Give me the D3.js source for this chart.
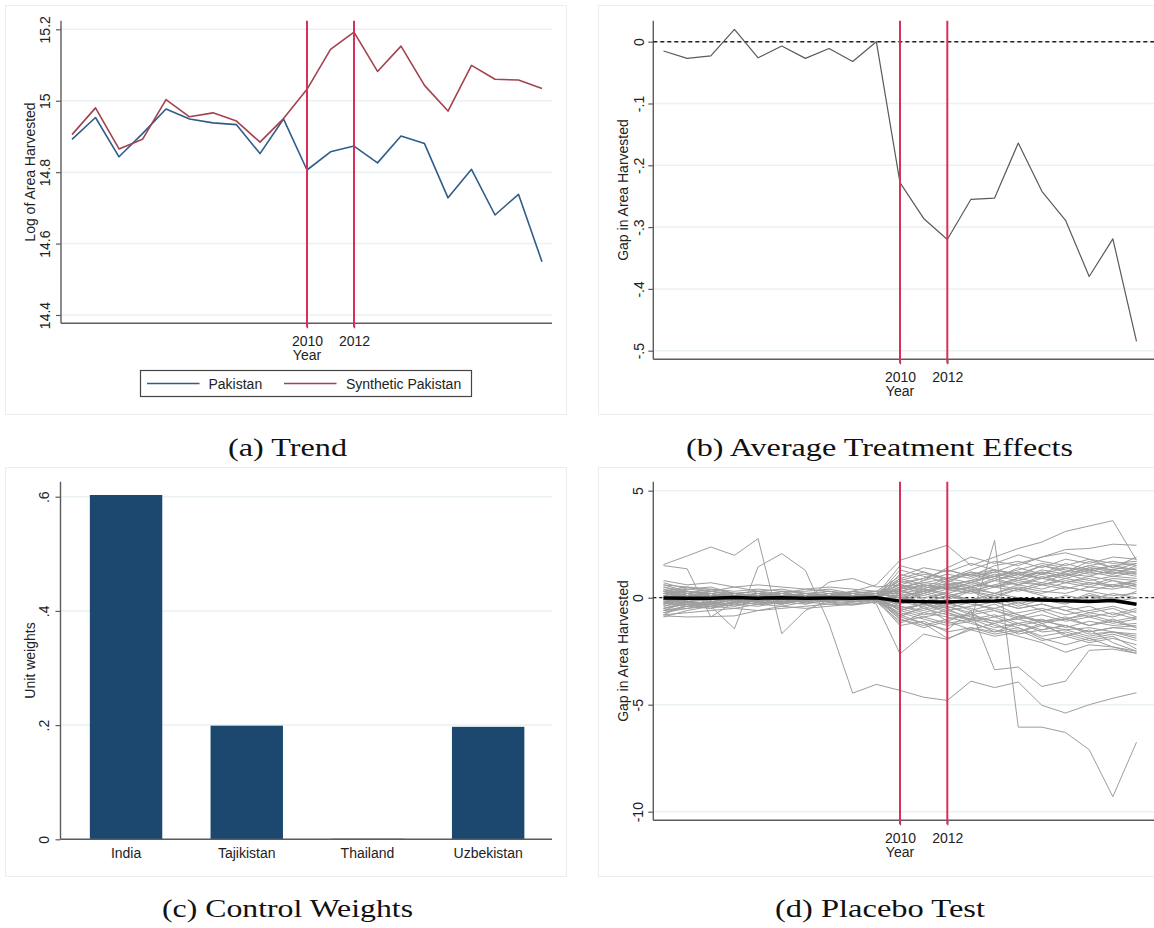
<!DOCTYPE html>
<html>
<head>
<meta charset="utf-8">
<script src="https://cdn.jsdelivr.net/npm/d3@7"></script>
<style>
  body { margin: 0; background: #fff; }
  svg { display: block; }
</style>
</head>
<body>
<svg id="fig" width="1154" height="928"></svg>
<script>
// ---------- data ----------
const years = [2000, 2001, 2002, 2003, 2004, 2005, 2006, 2007, 2008, 2009, 2010,
               2011, 2012, 2013, 2014, 2015, 2016, 2017, 2018, 2019, 2020];
const treatYears = [2010, 2012];

// log of area harvested
const pakistan = [14.892, 14.953, 14.843, 14.908, 14.977, 14.949, 14.938, 14.933, 14.852, 14.949, 14.806,
                  14.857, 14.873, 14.826, 14.901, 14.880, 14.728, 14.808, 14.680, 14.738, 14.549];
const synthPakistan = [14.905, 14.980, 14.865, 14.892, 15.003, 14.955, 14.966, 14.943, 14.884, 14.950, 15.032,
                       15.144, 15.192, 15.082, 15.153, 15.043, 14.971, 15.099, 15.060, 15.058, 15.034];

// treated minus synthetic
const gap = [-0.015, -0.027, -0.023, 0.020, -0.026, -0.007, -0.027, -0.011, -0.032, 0.000, -0.228,
             -0.286, -0.320, -0.255, -0.253, -0.164, -0.242, -0.289, -0.380, -0.319, -0.485];

// donor weights
const donors = ["India", "Tajikistan", "Thailand", "Uzbekistan"];
const weights = [0.603, 0.199, 0.001, 0.197];

// Pakistan's gap on the placebo scale
const pakistanPlaceboGap = [-0.01, -0.02, -0.02, 0.01, -0.02, 0.0, -0.02, -0.01, -0.02, 0.0, -0.16,
                            -0.19, -0.20, -0.17, -0.15, -0.08, -0.11, -0.14, -0.18, -0.13, -0.31];

// placebo gaps, one row per donor-pool country
const placeboGaps = [
  [1.55, 1.95, 2.37, 1.98, 2.76, -1.68, -0.6, -0.1, 0.3, 0.6, 1.75, 2.1, 2.45, 1.5, 1.9, 2.3, 2.6, 3.1, 3.35, 3.6, 1.75],
  [0.3, -0.2, -0.4, -1.45, 1.44, 2.06, 1.28, -1.22, -4.46, -4.05, -4.33, -4.65, -4.8, -3.9, -4.2, -3.94, -5.03, -5.39, -5.0, -4.7, -4.44],
  [-0.2, 0.1, -0.3, 0.2, -0.1, 0.3, 0.0, 0.2, -0.2, 0.1, -0.6, -0.3, -0.5, -1.06, 2.68, -6.05, -6.05, -6.3, -7.1, -9.3, -6.75],
  [0.1, 0.0, 0.2, -0.1, 0.1, 0.0, -0.2, 0.1, 0.0, -0.1, -0.9, -1.2, -1.5, -0.6, -3.37, -3.24, -4.15, -3.9, -2.46, -2.4, -2.6],
  [-0.5, -0.3, -0.2, -0.4, -0.1, -0.3, 0.0, -0.2, 0.1, -0.3, -2.62, -1.7, -1.95, -1.4, -1.6, -1.2, -1.5, -1.3, -1.6, -1.4, -1.5],
  [1.5, 1.35, -0.9, -0.2, 0.3, -0.1, 0.2, 0.0, 0.1, -0.2, 0.3, 0.6, 0.4, 0.7, 1.0, 0.8, 1.1, 0.9, 1.2, 1.0, 0.9],
  [-0.85, -0.9, -0.88, -0.85, -0.6, -0.5, -0.4, -0.3, -0.35, -0.2, -1.1, -0.9, -1.2, -1.0, -1.4, -1.2, -1.6, -1.5, -1.8, -1.6, -1.9],
  [0.2, 0.0, 0.1, -0.2, 0.0, -0.3, -0.1, 0.73, 0.9, 0.5, 0.6, 0.9, 1.3, 1.0, 1.2, 0.9, 1.3, 1.1, 1.4, 1.3, 1.2],
  [0.0, 0.2, 0.1, 0.0, 0.2, 0.1, 0.0, 0.2, 0.1, 0.0, 0.5, 0.7, 0.6, 0.8, 1.2, 1.6, 1.9, 2.25, 2.3, 2.5, 2.45],
  [-0.1, 0.0, -0.2, 0.1, -0.1, 0.0, 0.1, -0.1, 0.0, 0.1, -0.4, -0.7, -0.9, -1.2, -1.5, -1.8, -2.1, -2.55, -2.2, -2.3, -2.5],
  [0.3, 0.1, 0.0, 0.1, -0.1, 0.1, 0.0, 0.1, -0.1, 0.0, 0.4, 0.6, 0.5, 0.8, 1.0, 1.2, 1.1, 1.4, 1.3, 1.5, 1.6],
  [-0.6, -0.2, -0.1, 0.1, 0.0, -0.1, 0.1, 0.0, 0.1, -0.1, -0.5, -0.8, -0.6, -0.9, -1.1, -1.0, -1.3, -1.5, -1.4, -1.6, -1.7],
  [0.2, 0.3, 0.2, 0.0, 0.2, 0.1, 0.2, 0.0, 0.2, 0.1, 0.8, 0.5, 0.9, 0.7, 1.1, 0.9, 1.2, 1.0, 1.4, 1.2, 1.1],
  [-0.3, -0.1, 0.1, -0.2, 0.0, 0.1, -0.1, 0.1, 0.0, -0.1, -1.2, -0.7, -0.4, -0.8, -0.6, -1.0, -0.8, -1.1, -0.9, -1.2, -1.0],
  [0.6, 0.5, 0.4, 0.3, 0.4, 0.3, 0.3, 0.4, 0.2, 0.3, 0.3, 0.5, 0.4, 0.6, 0.5, 0.7, 0.6, 0.8, 0.6, 0.9, 0.8],
  [-0.8, -0.7, -0.6, -0.5, -0.6, -0.4, -0.5, -0.4, -0.3, -0.2, 0.2, -0.3, 0.1, -0.2, 0.0, -0.4, -0.1, -0.3, 0.1, -0.2, 0.0],
  [0.1, -0.1, 0.0, 0.2, -0.1, 0.0, 0.1, -0.2, 0.1, 0.0, 0.7, 0.9, 1.3, 1.0, 1.5, 1.7, 1.4, 1.8, 1.6, 1.9, 1.8],
  [-0.2, 0.0, -0.1, 0.0, 0.1, -0.1, 0.0, 0.1, -0.1, 0.1, -0.9, -0.4, -1.1, -0.7, -1.3, -1.6, -1.2, -1.8, -1.5, -2.1, -2.5],
  [0.4, 0.2, 0.3, 0.1, 0.2, 0.0, 0.1, 0.2, 0.0, 0.1, -0.2, 0.3, 0.0, 0.4, 0.2, 0.5, 0.3, 0.2, 0.5, 0.4, 0.6],
  [-0.5, -0.3, -0.4, -0.2, -0.3, -0.1, -0.2, 0.0, -0.1, 0.0, 0.5, 0.2, 0.6, 0.3, 0.0, 0.4, 0.1, -0.2, 0.2, -0.1, 0.3],
  [0.0, 0.2, -0.1, 0.1, 0.0, 0.2, -0.1, 0.1, 0.2, 0.0, 1.1, 0.8, 1.4, 1.9, 1.6, 2.0, 1.7, 1.5, 1.8, 1.4, 1.3],
  [-0.1, -0.3, -0.2, 0.0, -0.2, 0.0, -0.1, -0.2, 0.0, -0.1, -0.7, -1.0, -1.3, -1.1, -1.6, -1.4, -1.9, -2.2, -1.9, -2.3, -2.6],
  [0.7, 0.4, 0.5, 0.2, 0.3, 0.2, 0.4, 0.3, 0.1, 0.2, 0.0, -0.2, 0.3, 0.5, 0.2, 0.6, 0.9, 0.7, 1.0, 0.8, 0.5],
  [-0.4, -0.1, 0.0, -0.3, 0.1, -0.2, 0.0, -0.1, 0.1, -0.2, -0.4, -0.6, -0.3, -0.5, -0.9, -0.7, -0.5, -0.8, -0.6, -0.4, -0.7],
  [0.2, 0.0, 0.3, 0.1, 0.0, 0.2, 0.1, 0.3, 0.1, 0.2, 0.9, 1.2, 0.8, 1.1, 1.3, 1.0, 1.5, 1.2, 1.7, 1.4, 1.9],
  [-0.7, -0.4, -0.5, -0.3, -0.4, -0.2, -0.3, -0.1, -0.2, -0.1, -1.0, -1.4, -1.1, -1.5, -1.2, -1.7, -1.5, -1.3, -1.7, -1.6, -1.8],
  [0.1, 0.3, 0.1, 0.2, 0.3, 0.1, 0.2, 0.1, 0.3, 0.2, 0.6, 0.3, 0.7, 0.4, 0.8, 0.6, 0.4, 0.7, 0.5, 0.8, 0.6],
  [-0.2, -0.4, -0.3, -0.1, -0.2, -0.3, -0.1, -0.2, -0.3, -0.1, 0.1, -0.5, -0.2, -0.6, -0.3, -0.8, -1.1, -0.9, -1.3, -1.0, -1.4],
  [0.5, 0.3, 0.1, 0.2, 0.0, 0.1, 0.0, 0.2, 0.1, 0.0, 1.3, 1.0, 0.7, 1.2, 0.9, 1.4, 1.1, 1.6, 1.3, 1.1, 1.5],
  [-0.3, -0.2, 0.0, -0.1, 0.1, 0.0, -0.2, 0.0, -0.1, 0.1, -0.3, 0.2, -0.1, 0.3, -0.2, -0.5, -0.3, -0.6, -0.4, -0.8, -0.5],
  [0.8, 0.6, 0.7, 0.5, 0.6, 0.5, 0.4, 0.5, 0.4, 0.3, 1.0, 1.4, 1.2, 1.6, 1.3, 1.1, 1.5, 1.3, 1.1, 1.2, 1.0],
  [-0.9, -0.6, -0.4, -0.5, -0.3, -0.4, -0.2, -0.3, -0.2, -0.1, -1.3, -1.1, -1.6, -1.4, -1.7, -1.5, -2.0, -1.8, -2.1, -1.9, -2.2],
  [0.0, 0.1, 0.2, 0.0, 0.1, -0.1, 0.0, 0.1, 0.0, 0.2, 0.2, 0.4, 0.1, 0.3, 0.6, 0.4, 0.7, 0.5, 0.3, 0.6, 0.4],
  [-0.1, 0.1, -0.2, 0.0, -0.1, 0.1, -0.1, 0.0, -0.2, 0.0, -0.6, -0.3, -0.7, -1.0, -0.8, -1.2, -1.0, -1.4, -1.1, -1.3, -1.2],
  [0.3, 0.2, 0.4, 0.2, 0.1, 0.3, 0.2, 0.1, 0.3, 0.1, 0.5, 0.7, 0.9, 1.3, 1.7, 1.5, 1.9, 2.1, 1.8, 1.6, 1.7],
  [-0.6, -0.5, -0.3, -0.4, -0.2, -0.3, -0.1, -0.2, 0.0, -0.1, -0.8, -1.2, -1.9, -1.5, -1.8, -1.6, -1.3, -1.7, -2.0, -1.8, -2.4],
  [0.2, 0.4, 0.3, 0.5, 0.3, 0.4, 0.2, 0.3, 0.2, 0.3, 0.3, 0.0, 0.2, -0.1, 0.1, -0.3, 0.0, -0.2, 0.1, 0.0, -0.3],
  [-0.4, -0.2, -0.3, -0.1, -0.2, 0.0, -0.1, -0.1, 0.0, 0.0, 0.0, 0.3, 0.6, 0.8, 0.5, 0.9, 0.7, 1.1, 0.8, 1.0, 1.2],
  [0.1, -0.2, 0.2, -0.1, 0.2, -0.2, 0.1, 0.0, 0.2, -0.1, -0.1, 0.4, 0.8, 0.5, 0.9, 0.6, 1.0, 0.7, 0.9, 0.5, 0.7],
  [-0.3, 0.1, -0.1, 0.2, -0.2, 0.1, -0.3, 0.1, -0.1, 0.1, 0.4, -0.1, -0.5, -0.2, -0.6, -0.9, -0.6, -1.0, -0.7, -0.9, -0.6],
  [0.4, 0.1, 0.2, 0.0, 0.1, -0.1, 0.0, 0.1, -0.1, 0.0, 0.3, 0.1, 0.4, 0.2, 0.5, 0.3, 0.6, 0.4, 0.7, 0.5, 0.8],
  [-0.5, -0.2, -0.3, 0.0, -0.1, 0.1, -0.1, 0.0, 0.1, 0.0, -0.2, -0.4, -0.1, -0.3, -0.5, -0.2, -0.6, -0.4, -0.7, -0.5, -0.9],
  [0.6, 0.3, 0.2, 0.1, 0.0, 0.1, 0.1, 0.0, 0.1, 0.1, 0.8, 1.1, 0.9, 1.2, 1.0, 1.3, 1.6, 1.4, 1.2, 1.5, 1.3],
  [-0.7, -0.5, -0.4, -0.2, -0.3, -0.2, -0.1, -0.2, -0.1, 0.0, -0.6, -0.9, -0.7, -1.1, -0.9, -1.3, -1.1, -1.0, -1.3, -1.1, -1.4],
  [0.3, 0.5, 0.3, 0.2, 0.1, 0.2, 0.0, 0.1, 0.0, 0.1, 0.1, 0.3, 0.5, 0.3, 0.6, 0.9, 1.2, 1.0, 1.3, 1.1, 1.4],
  [-0.2, -0.1, 0.1, 0.0, 0.2, 0.0, 0.1, -0.1, 0.0, 0.1, -0.8, -0.5, -0.8, -1.0, -1.2, -0.9, -1.1, -1.3, -1.6, -1.4, -1.3],
  [0.0, -0.2, 0.0, 0.1, -0.1, 0.1, 0.0, 0.0, 0.1, 0.0, 0.0, -0.2, 0.1, -0.1, 0.2, 0.0, -0.2, 0.1, -0.1, 0.2, 0.0],
  [0.5, 0.2, 0.0, 0.2, 0.1, 0.0, 0.2, 0.1, 0.0, 0.1, 0.6, 0.4, 0.2, 0.5, 0.8, 1.1, 0.9, 1.2, 1.5, 1.3, 1.6],
  [-0.8, -0.3, -0.5, -0.2, -0.1, -0.2, 0.0, -0.1, -0.1, -0.1, -0.3, -0.1, -0.4, -0.7, -0.5, -0.8, -1.2, -1.0, -0.8, -1.1, -0.9],
  [0.2, 0.1, -0.1, 0.1, 0.0, 0.2, 0.1, 0.0, -0.1, 0.1, 1.5, 1.2, 0.9, 1.1, 0.8, 1.2, 0.9, 1.1, 1.0, 1.3, 1.1],
  [-0.3, 0.0, 0.2, -0.1, 0.0, -0.1, 0.1, -0.1, 0.0, -0.1, -0.1, 0.2, 0.5, 0.3, 0.1, 0.4, 0.2, 0.5, 0.3, 0.1, 0.2],
  [0.1, 0.0, -0.1, 0.0, 0.1, 0.0, -0.1, 0.1, 0.0, 0.0, -0.5, -0.3, -0.6, -0.4, -0.2, -0.5, -0.3, -0.6, -0.9, -0.7, -1.0],
  [-0.6, -0.4, -0.2, -0.3, -0.1, -0.2, -0.1, 0.0, -0.1, 0.0, 0.9, 0.6, 0.4, 0.7, 0.5, 0.8, 0.6, 0.9, 0.7, 0.6, 0.8],
  [0.3, 0.0, 0.1, -0.1, 0.1, 0.0, 0.0, -0.1, 0.1, 0.0, -1.0, -1.3, -1.0, -0.8, -1.1, -1.4, -1.8, -1.6, -1.9, -1.7, -2.0],
  [-0.1, 0.2, 0.0, 0.1, -0.1, 0.1, 0.0, 0.1, 0.0, 0.0, 0.4, 0.8, 1.1, 0.9, 1.3, 1.1, 0.9, 1.2, 1.5, 1.7, 1.5]
];

// axis ticks
const trendTicks = [14.4, 14.6, 14.8, 15, 15.2];
const trendTickLabels = ["14.4", "14.6", "14.8", "15", "15.2"];
const gapTicks = [-0.5, -0.4, -0.3, -0.2, -0.1, 0];
const gapTickLabels = ["-.5", "-.4", "-.3", "-.2", "-.1", "0"];
const weightTicks = [0, 0.2, 0.4, 0.6];
const weightTickLabels = ["0", ".2", ".4", ".6"];
const placeboTicks = [-10, -5, 0, 5];
const placeboTickLabels = ["-10", "-5", "0", "5"];

// ---------- styling ----------
const FONT = "'Liberation Sans', Arial, sans-serif";
const SERIF = "'Liberation Serif', 'DejaVu Serif', serif";
const AXIS = "#5c5c5c";
const GRID = "#eaf2f3";
const FRAME = "#eaeef0";
const TREAT = "#d8305a";

const svg = d3.select("#fig");
svg.append("rect").attr("width", 1154).attr("height", 928).attr("fill", "#fff");

function frame(x0, y0, x1, y1) {
  svg.append("rect")
    .attr("x", x0).attr("y", y0).attr("width", x1 - x0).attr("height", y1 - y0)
    .attr("fill", "#fff").attr("stroke", FRAME).attr("stroke-width", 1);
}

function caption(text, cx, cy, width) {
  svg.append("text")
    .attr("x", cx).attr("y", cy + 8)
    .attr("text-anchor", "middle")
    .attr("font-family", SERIF).attr("font-size", 26)
    .attr("textLength", width).attr("lengthAdjust", "spacingAndGlyphs")
    .attr("fill", "#111")
    .text(text);
}

// y axis with vertical tick labels and light horizontal grid
function yAxis(g, y, p, ticks, labels, labelX, title, titleX, gridRight) {
  g.append("g").selectAll("line").data(ticks).join("line")
    .attr("x1", p.left).attr("x2", gridRight)
    .attr("y1", d => y(d)).attr("y2", d => y(d))
    .attr("stroke", GRID).attr("stroke-width", 1.5);

  const ax = g.append("g")
    .attr("transform", `translate(${p.left},0)`)
    .call(d3.axisLeft(y).tickValues(ticks).tickFormat((d, i) => labels[i]).tickSize(5));
  ax.select(".domain").remove();
  ax.selectAll(".tick line").attr("stroke", AXIS).attr("stroke-width", 1.2);
  ax.selectAll(".tick text")
    .attr("x", 0).attr("dy", "0.36em")
    .attr("transform", `translate(${labelX - p.left},0) rotate(-90)`)
    .attr("text-anchor", "middle")
    .attr("font-family", FONT).attr("font-size", 14).attr("fill", "#222");

  g.append("line")
    .attr("x1", p.left).attr("x2", p.left)
    .attr("y1", p.top).attr("y2", p.bottom)
    .attr("stroke", AXIS).attr("stroke-width", 1.4);

  g.append("text")
    .attr("transform", `translate(${titleX},${(p.top + p.bottom) / 2}) rotate(-90)`)
    .attr("text-anchor", "middle").attr("dy", "0.36em")
    .attr("font-family", FONT).attr("font-size", 14).attr("fill", "#222")
    .text(title);
}

function xAxisYears(g, x, p) {
  g.append("line")
    .attr("x1", p.left).attr("x2", p.right)
    .attr("y1", p.bottom).attr("y2", p.bottom)
    .attr("stroke", AXIS).attr("stroke-width", 1.4);
  const ax = g.append("g")
    .attr("transform", `translate(0,${p.bottom})`)
    .call(d3.axisBottom(x).tickValues(treatYears).tickFormat(d3.format("d")).tickSize(5).tickPadding(7.5));
  ax.select(".domain").remove();
  ax.selectAll(".tick line").attr("stroke", AXIS).attr("stroke-width", 1.2);
  ax.selectAll(".tick text")
    .attr("font-family", FONT).attr("font-size", 14).attr("fill", "#222");
  g.append("text")
    .attr("x", x(2010)).attr("y", p.bottom + 37)
    .attr("text-anchor", "middle")
    .attr("font-family", FONT).attr("font-size", 14).attr("fill", "#222")
    .text("Year");
}

function treatLines(g, x, p) {
  g.append("g").selectAll("line").data(treatYears).join("line")
    .attr("x1", d => x(d)).attr("x2", d => x(d))
    .attr("y1", p.top).attr("y2", p.bottom + 4)
    .attr("stroke", TREAT).attr("stroke-width", 2);
}

// ---------- frames ----------
frame(5.5, 5.5, 566.5, 414.5);
frame(598.5, 5.5, 1160, 414.5);
frame(5.5, 467.5, 566.5, 876.5);
frame(598.5, 467.5, 1160, 876.5);

// ---------- (a) Trend ----------
{
  const p = { left: 61, right: 552, top: 20.7, bottom: 323.3 };
  const x = d3.scaleLinear().domain([2000, 2020]).range([72, 542]);
  const y = d3.scaleLinear().domain([14.4, 15.2]).range([315, 29.3]);
  const g = svg.append("g");
  yAxis(g, y, p, trendTicks, trendTickLabels, 44.5, "Log of Area Harvested", 29.5, p.right);
  xAxisYears(g, x, p);
  const line = d3.line().x((d, i) => x(years[i])).y(d => y(d));
  g.append("path").datum(pakistan).attr("d", line)
    .attr("fill", "none").attr("stroke", "#2f5d8a").attr("stroke-width", 1.6).attr("stroke-linejoin", "round");
  g.append("path").datum(synthPakistan).attr("d", line)
    .attr("fill", "none").attr("stroke", "#a2434e").attr("stroke-width", 1.6).attr("stroke-linejoin", "round");
  treatLines(g, x, p);

  // legend
  const lg = g.append("g");
  lg.append("rect").attr("x", 140.5).attr("y", 370.5).attr("width", 331).attr("height", 26)
    .attr("fill", "#fff").attr("stroke", "#444").attr("stroke-width", 1.2);
  const items = [
    { name: "Pakistan", color: "#2f5d8a", x0: 147, x1: 199.5, tx: 208.5 },
    { name: "Synthetic Pakistan", color: "#a2434e", x0: 284, x1: 336.5, tx: 346 }
  ];
  items.forEach(it => {
    lg.append("line").attr("x1", it.x0).attr("x2", it.x1).attr("y1", 383.5).attr("y2", 383.5)
      .attr("stroke", it.color).attr("stroke-width", 1.6);
    lg.append("text").attr("x", it.tx).attr("y", 383.5).attr("dy", "0.36em")
      .attr("font-family", FONT).attr("font-size", 14).attr("fill", "#222").text(it.name);
  });
}

// ---------- (b) Average Treatment Effects ----------
{
  const p = { left: 653.3, right: 1154, top: 20.7, bottom: 359.3 };
  const x = d3.scaleLinear().domain([2000, 2020]).range([663.5, 1136.5]);
  const y = d3.scaleLinear().domain([-0.5, 0]).range([350.7, 41.7]);
  const g = svg.append("g");
  yAxis(g, y, p, gapTicks, gapTickLabels, 638.5, "Gap in Area Harvested", 622.5, p.right);
  xAxisYears(g, x, p);
  g.append("line").attr("x1", p.left).attr("x2", p.right).attr("y1", y(0)).attr("y2", y(0))
    .attr("stroke", "#222").attr("stroke-width", 1.4).attr("stroke-dasharray", "4,3");
  const line = d3.line().x((d, i) => x(years[i])).y(d => y(d));
  g.append("path").datum(gap).attr("d", line)
    .attr("fill", "none").attr("stroke", "#5a5a5a").attr("stroke-width", 1.2).attr("stroke-linejoin", "round");
  treatLines(g, x, p);
}

// ---------- (c) Control Weights ----------
{
  const p = { left: 60.5, right: 552, top: 481.7, bottom: 839.3 };
  const x = d3.scaleBand().domain(donors).range([65.7, 548.5]).paddingInner(0.4).paddingOuter(0.2);
  const y = d3.scaleLinear().domain([0, 0.6]).range([839.3, 496.7]);
  const g = svg.append("g");
  yAxis(g, y, p, weightTicks, weightTickLabels, 44, "Unit weights", 29.5, p.right);
  g.append("g").selectAll("rect").data(weights).join("rect")
    .attr("x", (d, i) => x(donors[i]))
    .attr("width", x.bandwidth())
    .attr("y", d => y(d))
    .attr("height", d => Math.max(1, y(0) - y(d)))
    .attr("fill", "#1c476e");
  g.append("line").attr("x1", p.left).attr("x2", p.right).attr("y1", p.bottom).attr("y2", p.bottom)
    .attr("stroke", AXIS).attr("stroke-width", 1.4);
  const ax = g.append("g").attr("transform", `translate(0,${p.bottom})`)
    .call(d3.axisBottom(x).tickSize(0).tickPadding(9));
  ax.select(".domain").remove();
  ax.selectAll(".tick text").attr("font-family", FONT).attr("font-size", 14).attr("fill", "#222");
}

// ---------- (d) Placebo Test ----------
{
  const p = { left: 653.3, right: 1154, top: 481.7, bottom: 820.3 };
  const x = d3.scaleLinear().domain([2000, 2020]).range([663.5, 1136.5]);
  const y = d3.scaleLinear().domain([-10, 5]).range([811.7, 490.7]);
  const g = svg.append("g");
  yAxis(g, y, p, placeboTicks, placeboTickLabels, 637.5, "Gap in Area Harvested", 623, p.right);
  xAxisYears(g, x, p);
  g.append("line").attr("x1", p.left).attr("x2", p.right).attr("y1", y(0)).attr("y2", y(0))
    .attr("stroke", "#222").attr("stroke-width", 1.2).attr("stroke-dasharray", "3,3");
  const line = d3.line().x((d, i) => x(years[i])).y(d => y(d));
  g.append("g").selectAll("path").data(placeboGaps).join("path")
    .attr("d", line).attr("fill", "none")
    .attr("stroke", "#9d9d9d").attr("stroke-width", 1).attr("stroke-linejoin", "round");
  g.append("path").datum(pakistanPlaceboGap).attr("d", line)
    .attr("fill", "none").attr("stroke", "#000").attr("stroke-width", 3.5).attr("stroke-linejoin", "round");
  treatLines(g, x, p);
}

// ---------- captions ----------
caption("(a) Trend", 287.5, 448, 119);
caption("(b) Average Treatment Effects", 879.5, 448, 387);
caption("(c) Control Weights", 287.5, 909, 251);
caption("(d) Placebo Test", 880, 909, 210);
</script>
</body>
</html>
